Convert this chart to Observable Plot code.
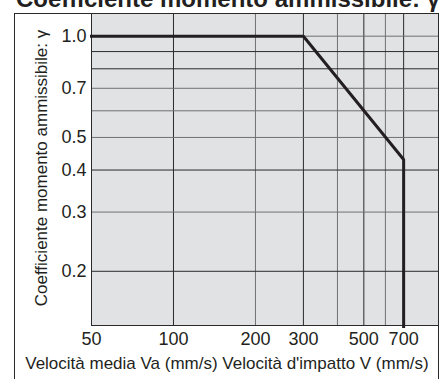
<!DOCTYPE html>
<html>
<head>
<meta charset="utf-8">
<script src="https://cdn.jsdelivr.net/npm/d3@7"></script>
<script src="https://cdn.jsdelivr.net/npm/@observablehq/plot@0.6"></script>
<style>
  html, body { margin: 0; padding: 0; background: #fff; }
  #chart { width: 443px; height: 379px; overflow: hidden; }
</style>
</head>
<body>
<div id="chart"></div>
<script>
// ---- data ----
const speed = [50, 300, 700, 700];           // mm/s
const gamma = [1.0, 1.0, 0.43, 0.137];       // allowable moment coefficient
const xTicks = [50, 100, 200, 300, 500, 700];
const yTicks = [1.0, 0.7, 0.5, 0.4, 0.3, 0.2];
const xGridDark = [100, 300, 500, 700];
const xGridGray = [200, 400, 600];
const yGridDark = [0.9, 0.8, 0.4, 0.2];
const yGridGray = [1.0, 0.7, 0.6, 0.5, 0.3];
const titleText = "Coefficiente momento ammissibile: \u03b3";
const yLabelText = "Coefficiente momento ammissibile: \u03b3";
const xLabelText = "Velocit\u00e0 media Va (mm/s) Velocit\u00e0 d'impatto V (mm/s)";

const data = speed.map((v, i) => ({v, g: gamma[i]}));
const ink = "#231f20";
const font = "'Liberation Sans', Arial, Helvetica, sans-serif";

const chart = Plot.plot({
  width: 443,
  height: 379,
  marginLeft: 91,
  marginRight: 5,
  marginTop: 13,
  marginBottom: 54,
  style: {fontFamily: font, fontSize: "18px", color: ink, background: "transparent"},
  x: {type: "log", domain: [50, 940]},
  y: {type: "log", domain: [0.138, 1.168]},
  marks: [
    Plot.frame({fill: "#e1e2e4", stroke: null}),
    Plot.ruleX(xGridGray, {stroke: "#707070", strokeWidth: 1}),
    Plot.ruleX(xGridDark, {stroke: "#2a2a2a", strokeWidth: 1}),
    Plot.ruleY(yGridGray, {stroke: "#707070", strokeWidth: 1}),
    Plot.ruleY(yGridDark, {stroke: "#2a2a2a", strokeWidth: 1}),
    Plot.frame({stroke: "#2a2a2a", strokeWidth: 1}),
    Plot.axisX({ticks: xTicks, tickFormat: d => String(d), tickSize: 0, tickPadding: 7, label: null, fontSize: 18}),
    Plot.axisY({ticks: yTicks, tickFormat: d3.format(".1f"), tickSize: 0, tickPadding: 5, label: null, fontSize: 18}),
    Plot.line(data, {x: "v", y: "g", stroke: ink, strokeWidth: 3, strokeLinejoin: "miter", strokeLinecap: "square", clip: false})
  ]
});

document.getElementById("chart").appendChild(chart);

// decorations: outer box, title, axis labels
const svg = d3.select(chart);
svg.append("rect")
  .attr("x", 14.5).attr("y", 13.5)
  .attr("width", 424).attr("height", 400)
  .attr("fill", "none").attr("stroke", "#2a2a2a").attr("stroke-width", 1);
svg.append("text")
  .attr("x", 16).attr("y", 7)
  .attr("text-anchor", "start")
  .attr("font-family", font).attr("font-weight", "bold").attr("font-size", 24)
  .attr("fill", ink)
  .text(titleText);
svg.append("text")
  .attr("transform", "translate(47,168) rotate(-90)")
  .attr("text-anchor", "middle")
  .attr("font-family", font).attr("font-size", 17)
  .attr("fill", ink)
  .text(yLabelText);
svg.append("text")
  .attr("x", 227).attr("y", 369)
  .attr("text-anchor", "middle")
  .attr("font-family", font).attr("font-size", 17)
  .attr("fill", ink)
  .text(xLabelText);
</script>
</body>
</html>
